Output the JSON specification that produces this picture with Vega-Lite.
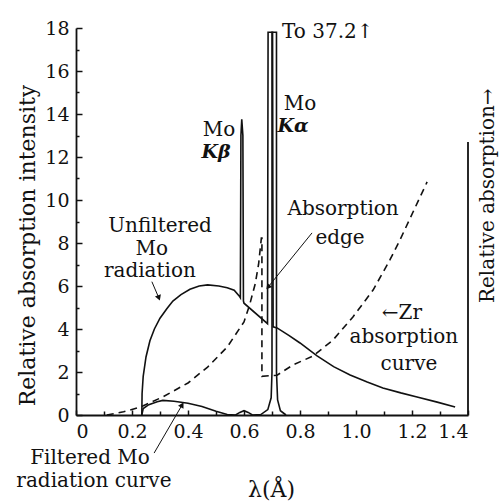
{
  "$schema": "https://vega.github.io/schema/vega-lite/v6.json",
  "width": 392,
  "height": 387,
  "autosize": {"type": "none"},
  "padding": {"left": 76, "top": 28, "right": 34, "bottom": 86},
  "background": "white",
  "config": {
    "view": {"stroke": null},
    "font": "DejaVu Serif",
    "axis": {"grid": false, "domainColor": "#111", "tickColor": "#111", "labelColor": "#111", "titleColor": "#111", "labelFont": "DejaVu Serif", "titleFont": "DejaVu Serif", "titleFontWeight": "normal"}
  },
  "datasets": {
    "curves": [
      {"s": "zr", "i": 1, "x": 0.11, "y": 0},
      {"s": "zr", "i": 2, "x": 0.17, "y": 0.15},
      {"s": "zr", "i": 3, "x": 0.23, "y": 0.37},
      {"s": "zr", "i": 4, "x": 0.31, "y": 0.84},
      {"s": "zr", "i": 5, "x": 0.40, "y": 1.49},
      {"s": "zr", "i": 6, "x": 0.47, "y": 2.23},
      {"s": "zr", "i": 7, "x": 0.54, "y": 3.16},
      {"s": "zr", "i": 8, "x": 0.60, "y": 4.33},
      {"s": "zr", "i": 9, "x": 0.62, "y": 5.12},
      {"s": "zr", "i": 10, "x": 0.64, "y": 6.1},
      {"s": "zr", "i": 11, "x": 0.652, "y": 7.0},
      {"s": "zr", "i": 12, "x": 0.662, "y": 8.23},
      {"s": "zr", "i": 13, "x": 0.664, "y": 8.23},
      {"s": "zr", "i": 14, "x": 0.664, "y": 1.8},
      {"s": "zr", "i": 15, "x": 0.718, "y": 1.85},
      {"s": "zr", "i": 16, "x": 0.775, "y": 2.33},
      {"s": "zr", "i": 17, "x": 0.846, "y": 2.74},
      {"s": "zr", "i": 18, "x": 0.918, "y": 3.49},
      {"s": "zr", "i": 19, "x": 0.989, "y": 4.56},
      {"s": "zr", "i": 20, "x": 1.061, "y": 5.81},
      {"s": "zr", "i": 21, "x": 1.121, "y": 7.21},
      {"s": "zr", "i": 22, "x": 1.157, "y": 8.14},
      {"s": "zr", "i": 23, "x": 1.254, "y": 10.84},
      {"s": "unfiltered", "i": 1, "x": 0.235, "y": 0},
      {"s": "unfiltered", "i": 2, "x": 0.236, "y": 1.0},
      {"s": "unfiltered", "i": 3, "x": 0.24, "y": 1.8},
      {"s": "unfiltered", "i": 4, "x": 0.25, "y": 2.7},
      {"s": "unfiltered", "i": 5, "x": 0.264, "y": 3.45},
      {"s": "unfiltered", "i": 6, "x": 0.28, "y": 4.0},
      {"s": "unfiltered", "i": 7, "x": 0.30, "y": 4.5},
      {"s": "unfiltered", "i": 8, "x": 0.325, "y": 4.95},
      {"s": "unfiltered", "i": 9, "x": 0.346, "y": 5.3},
      {"s": "unfiltered", "i": 10, "x": 0.375, "y": 5.6},
      {"s": "unfiltered", "i": 11, "x": 0.407, "y": 5.85},
      {"s": "unfiltered", "i": 12, "x": 0.44, "y": 6.0},
      {"s": "unfiltered", "i": 13, "x": 0.47, "y": 6.05},
      {"s": "unfiltered", "i": 14, "x": 0.51, "y": 6.0},
      {"s": "unfiltered", "i": 15, "x": 0.54, "y": 5.92},
      {"s": "unfiltered", "i": 16, "x": 0.565, "y": 5.8},
      {"s": "unfiltered", "i": 17, "x": 0.582, "y": 5.55},
      {"s": "unfiltered", "i": 18, "x": 0.587, "y": 5.45},
      {"s": "unfiltered", "i": 19, "x": 0.589, "y": 13.0},
      {"s": "unfiltered", "i": 20, "x": 0.592, "y": 13.75},
      {"s": "unfiltered", "i": 21, "x": 0.596, "y": 13.0},
      {"s": "unfiltered", "i": 22, "x": 0.598, "y": 5.3},
      {"s": "unfiltered", "i": 23, "x": 0.60, "y": 5.2},
      {"s": "unfiltered", "i": 24, "x": 0.684, "y": 4.25},
      {"s": "unfiltered", "i": 25, "x": 0.686, "y": 17.8},
      {"s": "unfiltered", "i": 26, "x": 0.702, "y": 17.8},
      {"s": "unfiltered", "i": 27, "x": 0.704, "y": 4.1},
      {"s": "unfiltered", "i": 28, "x": 0.718, "y": 4.05},
      {"s": "unfiltered", "i": 29, "x": 0.76, "y": 3.7},
      {"s": "unfiltered", "i": 30, "x": 0.80, "y": 3.35},
      {"s": "unfiltered", "i": 31, "x": 0.861, "y": 2.75},
      {"s": "unfiltered", "i": 32, "x": 0.92, "y": 2.25},
      {"s": "unfiltered", "i": 33, "x": 0.979, "y": 1.86},
      {"s": "unfiltered", "i": 34, "x": 1.04, "y": 1.53},
      {"s": "unfiltered", "i": 35, "x": 1.096, "y": 1.26},
      {"s": "unfiltered", "i": 36, "x": 1.16, "y": 1.03},
      {"s": "unfiltered", "i": 37, "x": 1.218, "y": 0.84},
      {"s": "unfiltered", "i": 38, "x": 1.29, "y": 0.6},
      {"s": "unfiltered", "i": 39, "x": 1.354, "y": 0.37},
      {"s": "filtered", "i": 1, "x": 0.235, "y": 0},
      {"s": "filtered", "i": 2, "x": 0.24, "y": 0.3},
      {"s": "filtered", "i": 3, "x": 0.26, "y": 0.48},
      {"s": "filtered", "i": 4, "x": 0.29, "y": 0.62},
      {"s": "filtered", "i": 5, "x": 0.31, "y": 0.68},
      {"s": "filtered", "i": 6, "x": 0.35, "y": 0.64},
      {"s": "filtered", "i": 7, "x": 0.40, "y": 0.55},
      {"s": "filtered", "i": 8, "x": 0.45, "y": 0.4},
      {"s": "filtered", "i": 9, "x": 0.50, "y": 0.17},
      {"s": "filtered", "i": 10, "x": 0.54, "y": 0.02},
      {"s": "filtered", "i": 11, "x": 0.57, "y": 0.0},
      {"s": "filtered", "i": 12, "x": 0.585, "y": 0.12},
      {"s": "filtered", "i": 13, "x": 0.60, "y": 0.2},
      {"s": "filtered", "i": 14, "x": 0.615, "y": 0.12},
      {"s": "filtered", "i": 15, "x": 0.63, "y": 0.0},
      {"s": "filtered", "i": 16, "x": 0.66, "y": 0.02},
      {"s": "filtered", "i": 17, "x": 0.685, "y": 0.25},
      {"s": "filtered", "i": 18, "x": 0.697, "y": 0.8},
      {"s": "filtered", "i": 19, "x": 0.70, "y": 2.0},
      {"s": "filtered", "i": 20, "x": 0.70, "y": 17.8},
      {"s": "filtered", "i": 21, "x": 0.716, "y": 17.8},
      {"s": "filtered", "i": 22, "x": 0.716, "y": 2.0},
      {"s": "filtered", "i": 23, "x": 0.72, "y": 0.7},
      {"s": "filtered", "i": 24, "x": 0.73, "y": 0.2},
      {"s": "filtered", "i": 25, "x": 0.75, "y": 0.0}
    ],
    "labels": [
      {"k": "plain", "t": "Unfiltered", "x": 0.30, "y": 8.5},
      {"k": "plain", "t": "Mo", "x": 0.271, "y": 7.45},
      {"k": "plain", "t": "radiation", "x": 0.264, "y": 6.4},
      {"k": "plain", "t": "Mo", "x": 0.511, "y": 13.0},
      {"k": "symbol", "t": "Kβ", "x": 0.50, "y": 11.95},
      {"k": "plain", "t": "Mo", "x": 0.80, "y": 14.2},
      {"k": "symbol", "t": "Kα", "x": 0.775, "y": 13.16},
      {"k": "plain", "t": "Absorption", "x": 0.954, "y": 9.3},
      {"k": "plain", "t": "edge", "x": 0.943, "y": 7.95},
      {"k": "plain", "t": "←Zr", "x": 1.164, "y": 4.45},
      {"k": "plain", "t": "absorption", "x": 1.171, "y": 3.35},
      {"k": "plain", "t": "curve", "x": 1.189, "y": 2.09},
      {"k": "small", "t": "Filtered Mo", "x": 0.05, "y": -2.28},
      {"k": "small", "t": "radiation curve", "x": 0.064, "y": -3.35},
      {"k": "left", "t": "To 37.2↑", "x": 0.736, "y": 17.53},
      {"k": "vertical", "t": "Relative absorption→", "x": 1.471, "y": 10.2}
    ],
    "pointers": [
      {"p": "unfiltered", "x": 0.271, "y": 6.2, "x2": 0.296, "y2": 5.44},
      {"p": "filtered", "x": 0.279, "y": -1.77, "x2": 0.379, "y2": 0.47},
      {"p": "edge", "x": 0.843, "y": 8.47, "x2": 0.686, "y2": 5.95}
    ]
  },
  "resolve": {"axis": {"x": "independent", "y": "independent"}},
  "layer": [
    {
      "data": {"name": "curves"},
      "transform": [{"filter": "datum.s == 'zr'"}],
      "mark": {"type": "line", "color": "#111", "strokeWidth": 1.6, "strokeDash": [7, 5]},
      "encoding": {
        "x": {"field": "x", "type": "quantitative", "scale": {"domain": [0, 1.4], "nice": false, "zero": false},
          "axis": {"orient": "bottom", "values": [0, 0.2, 0.4, 0.6, 0.8, 1.0, 1.2, 1.4], "labelExpr": "datum.value == 0 ? '0' : format(datum.value, '.1f')", "ticks": true, "tickSize": -5, "tickWidth": 1.5, "domainWidth": 1.8, "labelFontSize": 19, "labelPadding": 12, "title": "λ(Å)", "titleFontSize": 22, "titleX": 195, "titleY": 74, "titleBaseline": "middle", "titleAlign": "center"}},
        "y": {"field": "y", "type": "quantitative", "scale": {"domain": [0, 18], "nice": false, "zero": false},
          "axis": {"orient": "left", "values": [0, 2, 4, 6, 8, 10, 12, 14, 16, 18], "ticks": true, "tickSize": -6, "tickWidth": 1.5, "domainWidth": 1.8, "labelFontSize": 19, "labelPadding": 13, "title": "Relative absorption intensity", "titleFontSize": 22, "titleX": -49, "titleY": 217, "titleAngle": -90, "titleBaseline": "middle", "titleAlign": "center"}},
        "detail": {"field": "s"},
        "order": {"field": "i", "type": "quantitative"}
      }
    },
    {
      "data": {"name": "curves"},
      "transform": [{"filter": "datum.s != 'zr'"}],
      "mark": {"type": "line", "color": "#111", "strokeWidth": 1.6},
      "encoding": {
        "x": {"field": "x", "type": "quantitative",
          "axis": {"orient": "bottom", "values": [0.1, 0.3, 0.5, 0.7, 0.9, 1.1, 1.3], "labels": false, "domain": false, "ticks": true, "tickSize": -4, "tickWidth": 1.5, "title": null}},
        "y": {"field": "y", "type": "quantitative",
          "axis": {"orient": "left", "values": [1, 3, 5, 7, 9, 11, 13, 15, 17], "labels": false, "domain": false, "ticks": true, "tickSize": -3, "tickWidth": 1.5, "title": null}},
        "detail": {"field": "s"},
        "order": {"field": "i", "type": "quantitative"}
      }
    },
    {
      "data": {"values": [{"edge": "right"}]},
      "mark": {"type": "rule", "color": "#111", "strokeWidth": 1.8},
      "encoding": {
        "x": {"datum": 1.4, "type": "quantitative", "axis": null},
        "y": {"datum": 0, "type": "quantitative", "axis": null},
        "y2": {"datum": 12.7}
      }
    },
    {
      "data": {"name": "pointers"},
      "mark": {"type": "rule", "color": "#111", "strokeWidth": 1},
      "encoding": {
        "x": {"field": "x", "type": "quantitative", "axis": null},
        "y": {"field": "y", "type": "quantitative", "axis": null},
        "x2": {"field": "x2"},
        "y2": {"field": "y2"}
      }
    },
    {
      "data": {"name": "pointers"},
      "transform": [{"filter": "datum.p == 'unfiltered'"}],
      "mark": {"type": "point", "shape": "triangle-up", "filled": true, "color": "#111", "size": 40, "angle": 159, "opacity": 1},
      "encoding": {
        "x": {"field": "x2", "type": "quantitative", "axis": null},
        "y": {"field": "y2", "type": "quantitative", "axis": null}
      }
    },
    {
      "data": {"name": "pointers"},
      "transform": [{"filter": "datum.p == 'filtered'"}],
      "mark": {"type": "point", "shape": "triangle-up", "filled": true, "color": "#111", "size": 40, "angle": 30, "opacity": 1},
      "encoding": {
        "x": {"field": "x2", "type": "quantitative", "axis": null},
        "y": {"field": "y2", "type": "quantitative", "axis": null}
      }
    },
    {
      "data": {"name": "pointers"},
      "transform": [{"filter": "datum.p == 'edge'"}],
      "mark": {"type": "point", "shape": "triangle-up", "filled": true, "color": "#111", "size": 40, "angle": 219, "opacity": 1},
      "encoding": {
        "x": {"field": "x2", "type": "quantitative", "axis": null},
        "y": {"field": "y2", "type": "quantitative", "axis": null}
      }
    },
    {
      "data": {"name": "labels"},
      "transform": [{"filter": "datum.k == 'plain'"}],
      "mark": {"type": "text", "font": "DejaVu Serif", "fontSize": 20, "color": "#111", "align": "center", "baseline": "alphabetic"},
      "encoding": {
        "x": {"field": "x", "type": "quantitative", "axis": null},
        "y": {"field": "y", "type": "quantitative", "axis": null},
        "text": {"field": "t"}
      }
    },
    {
      "data": {"name": "labels"},
      "transform": [{"filter": "datum.k == 'small'"}],
      "mark": {"type": "text", "font": "DejaVu Serif", "fontSize": 20, "color": "#111", "align": "center", "baseline": "alphabetic"},
      "encoding": {
        "x": {"field": "x", "type": "quantitative", "axis": null},
        "y": {"field": "y", "type": "quantitative", "axis": null},
        "text": {"field": "t"}
      }
    },
    {
      "data": {"name": "labels"},
      "transform": [{"filter": "datum.k == 'symbol'"}],
      "mark": {"type": "text", "font": "DejaVu Serif", "fontSize": 19, "fontStyle": "italic", "fontWeight": "bold", "color": "#111", "align": "center", "baseline": "alphabetic"},
      "encoding": {
        "x": {"field": "x", "type": "quantitative", "axis": null},
        "y": {"field": "y", "type": "quantitative", "axis": null},
        "text": {"field": "t"}
      }
    },
    {
      "data": {"name": "labels"},
      "transform": [{"filter": "datum.k == 'left'"}],
      "mark": {"type": "text", "font": "DejaVu Serif", "fontSize": 20, "color": "#111", "align": "left", "baseline": "alphabetic"},
      "encoding": {
        "x": {"field": "x", "type": "quantitative", "axis": null},
        "y": {"field": "y", "type": "quantitative", "axis": null},
        "text": {"field": "t"}
      }
    },
    {
      "data": {"name": "labels"},
      "transform": [{"filter": "datum.k == 'vertical'"}],
      "mark": {"type": "text", "font": "DejaVu Serif", "fontSize": 20, "color": "#111", "align": "center", "baseline": "middle", "angle": 270},
      "encoding": {
        "x": {"field": "x", "type": "quantitative", "axis": null},
        "y": {"field": "y", "type": "quantitative", "axis": null},
        "text": {"field": "t"}
      }
    }
  ]
}
